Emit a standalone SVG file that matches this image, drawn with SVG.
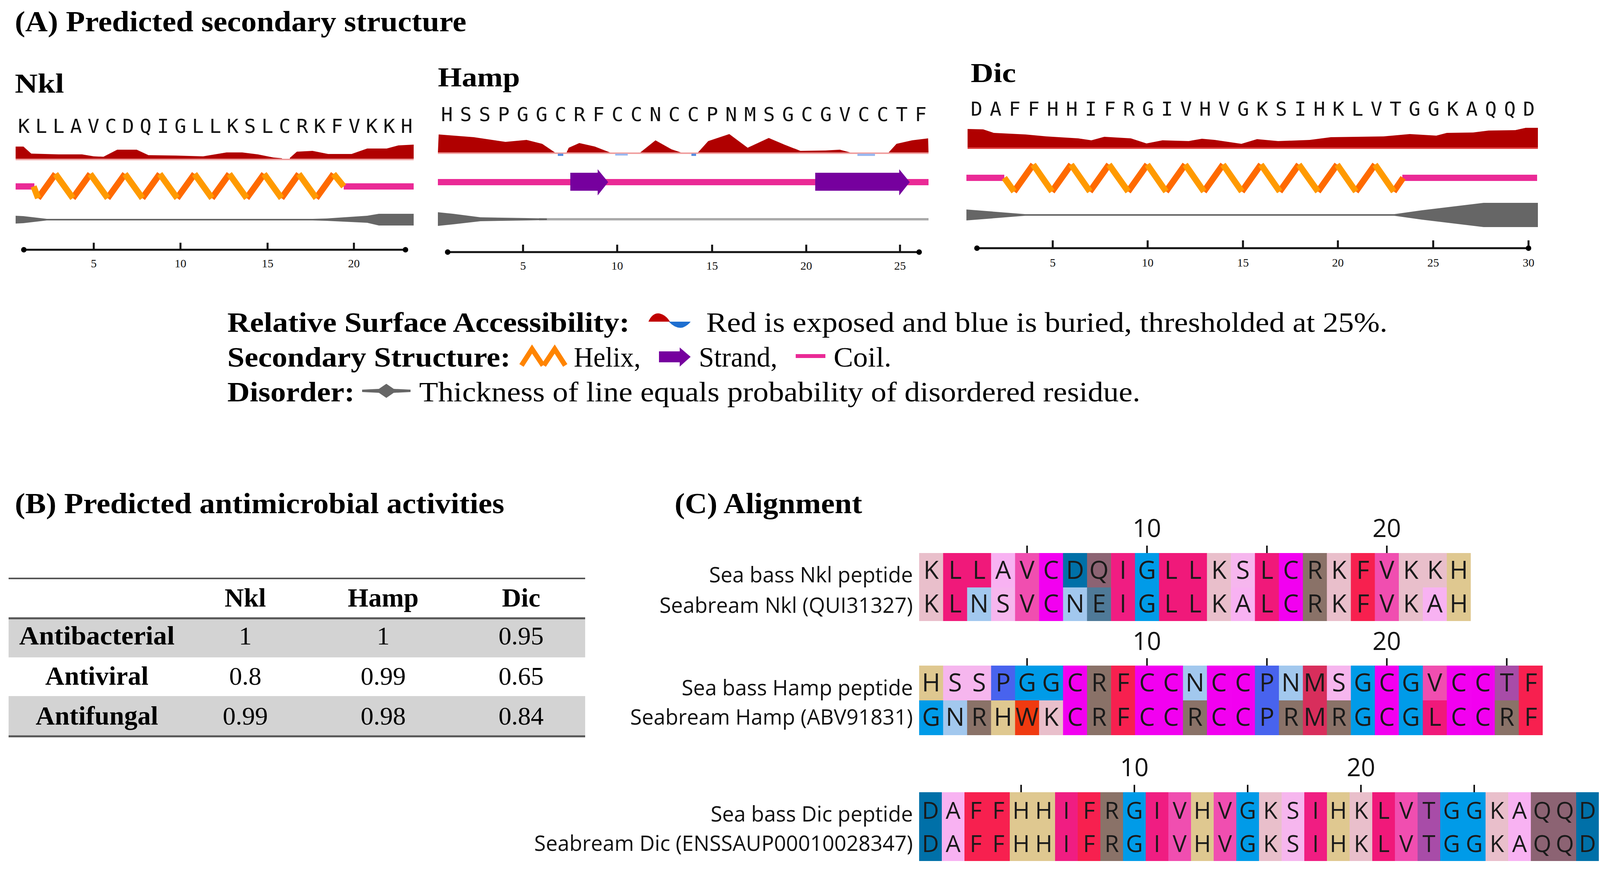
<svg xmlns="http://www.w3.org/2000/svg" width="4226" height="2226" viewBox="0 0 4226 2226">
<style>
.ttl{font-family:"Liberation Serif",serif;font-weight:bold;font-size:74px;fill:#000}
.lbl{font-family:"Liberation Serif",serif;font-weight:bold;font-size:70px;fill:#000}
.seq{font-family:"DejaVu Sans Mono",monospace;font-size:50px;fill:#111}
.ax{font-family:"Liberation Serif",serif;font-size:30px;fill:#111;text-anchor:middle}
.axl{stroke:#111;stroke-width:5;fill:none}
.lg{font-family:"Liberation Serif",serif;font-size:72px;fill:#000}
.lgb{font-family:"Liberation Serif",serif;font-size:72px;font-weight:bold;fill:#000}
.rsa{fill:#b00000}
.coil{stroke:#ea2a96;stroke-width:16;fill:none}
.hup{stroke:#ff6a00;stroke-width:16;fill:none}
.hdn{stroke:#ff9a00;stroke-width:16;fill:none}
.strand{fill:#76009e}
.dis{fill:#666}
.tb{font-family:"Liberation Serif",serif;font-size:66px;fill:#000;text-anchor:middle}
.tbb{font-family:"Liberation Serif",serif;font-size:68px;font-weight:bold;fill:#000;text-anchor:middle}
.nm{font-family:"Open Sans",sans-serif;font-size:54px;fill:#111;text-anchor:end}
.num{font-family:"Open Sans",sans-serif;font-size:64px;fill:#111;text-anchor:middle}
.aa{font-family:"Open Sans",sans-serif;font-size:64px;fill:#1a1a1a;text-anchor:middle}
.aa2{font-family:"Open Sans",sans-serif;font-size:60px;fill:#1a1a1a;text-anchor:middle}
.tk{stroke:#111;stroke-width:4}
.K{fill:#e9bfcb}.L{fill:#f0197a}.A{fill:#f8b2f2}.V{fill:#f04eb0}.C{fill:#f200f0}.D{fill:#0070a8}.Q{fill:#8c6373}.I{fill:#f01d82}.G{fill:#009be8}.S{fill:#f6b6ee}.R{fill:#8a7268}.F{fill:#f7204f}.H{fill:#dfc890}.N{fill:#a2c8ee}.E{fill:#4f7a98}.P{fill:#4863ee}.M{fill:#d82e5c}.T{fill:#a84ca8}.W{fill:#f03a10}
</style>

<text class="ttl" x="38" y="80" textLength="1156" lengthAdjust="spacingAndGlyphs">(A) Predicted secondary structure</text>

<g id="nkl-structure">
<text class="lbl" x="38" y="237" textLength="126" lengthAdjust="spacingAndGlyphs">Nkl</text>
<text class="seq" x="46" y="340" textLength="1010" lengthAdjust="spacing">KLLAVCDQIGLLKSLCRKFVKKH</text>
<path class="rsa" d="M40 407 L40 375 L60 375 L80 393 L150 395 L210 395 L240 400 L265 401 L300 383 L350 383 L380 397 L450 398 L520 400 L580 390 L620 390 L660 395 L700 403 L722 405 L722 407 Z M742 407 L742 404 L760 388 L800 386 L840 394 L900 394 L940 380 L990 380 L1020 372 L1059 370 L1059 407 Z"/>
<rect x="40" y="406" width="1019" height="4" fill="#f0a0a0"/>
<path class="coil" d="M40 477 H88 M880 477 H1059"/>
<path class="hup" d="M97.5 507 L142 445 M186.5 507 L231 445 M275.5 507 L320 445 M364.5 507 L409 445 M453.5 507 L498 445 M542.5 507 L587 445 M631.5 507 L676 445 M720.5 507 L765 445 M809.5 507 L854 445"/>
<path class="hdn" d="M86 477 L97.5 507 M142 445 L186.5 507 M231 445 L275.5 507 M320 445 L364.5 507 M409 445 L453.5 507 M498 445 L542.5 507 M587 445 L631.5 507 M676 445 L720.5 507 M765 445 L809.5 507 M854 445 L880 477"/>
<path class="dis" d="M40 552 L60 553 L120 560 L800 560 L836 559 L940 552 L970 547 L1059 547 L1059 577 L970 577 L940 570 L836 565 L800 564 L120 564 L60 571 L40 572 Z"/>
<path class="axl" d="M61 639 H1038 M240 639 V621 M462 639 V621 M685 639 V621 M906 639 V621"/>
<circle cx="61" cy="639" r="7"/><circle cx="1038" cy="639" r="7"/>
<text class="ax" x="240" y="684">5</text><text class="ax" x="462" y="684">10</text><text class="ax" x="685" y="684">15</text><text class="ax" x="906" y="684">20</text>
</g>

<g id="hamp-structure">
<text class="lbl" x="1121" y="221" textLength="210" lengthAdjust="spacingAndGlyphs">Hamp</text>
<text class="seq" x="1129" y="310" textLength="1243" lengthAdjust="spacing">HSSPGGCRFCCNCCPNMSGCGVCCTF</text>
<path class="rsa" d="M1121 391 L1123 344 L1213 351 L1294 363 L1348 358 L1388 368 L1422 391 Z M1450 391 L1456 378 L1483 366 L1523 375 L1564 391 Z M1638 391 L1678 359 L1719 382 L1746 391 Z M1786 391 L1813 361 L1867 343 L1914 378 L1968 353 L2008 370 L2049 386 L2113 385 L2150 383 L2180 391 Z M2270 391 L2275 390 L2295 368 L2335 359 L2376 354 L2377 391 Z"/>
<rect x="1121" y="390" width="1256" height="4" fill="#f0a0a0"/>
<rect x="1428" y="393" width="14" height="6" fill="#5a8ee0"/><rect x="1575" y="393" width="32" height="5" fill="#9ab8f0"/><rect x="1770" y="393" width="12" height="6" fill="#5a8ee0"/><rect x="2195" y="393" width="45" height="6" fill="#9ab8f0"/>
<path class="coil" d="M1121 466 H2377"/>
<path class="strand" d="M1460 442 L1530 442 L1530 433 L1557 466 L1530 500 L1530 488 L1460 488 Z"/>
<path class="strand" d="M2087 442 L2302 442 L2302 433 L2329 466 L2302 500 L2302 488 L2087 488 Z"/>
<line x1="1380" y1="561" x2="2377" y2="561" stroke="#aaa" stroke-width="6"/>
<path class="dis" d="M1121 543 L1160 547 L1230 556 L1348 558 L1400 559 L1400 563 L1348 564 L1230 566 L1160 574 L1121 578 Z"/>
<path class="axl" d="M1146 645 H2353 M1339 645 V626 M1580 645 V626 M1823 645 V626 M2064 645 V626 M2304 645 V626"/>
<circle cx="1146" cy="645" r="7"/><circle cx="2353" cy="645" r="7"/>
<text class="ax" x="1339" y="690">5</text><text class="ax" x="1580" y="690">10</text><text class="ax" x="1823" y="690">15</text><text class="ax" x="2064" y="690">20</text><text class="ax" x="2304" y="690">25</text>
</g>

<g id="dic-structure">
<text class="lbl" x="2485" y="210" textLength="116" lengthAdjust="spacingAndGlyphs">Dic</text>
<text class="seq" x="2485" y="296" textLength="1444" lengthAdjust="spacing">DAFFHHIFRGIVHVGKSIHKLVTGGKAQQD</text>
<path class="rsa" d="M2477 378 L2477 330 L2517 331 L2544 340 L2625 344 L2679 349 L2760 354 L2794 359 L2827 350 L2895 354 L2935 367 L2976 359 L3043 361 L3077 355 L3110 358 L3178 368 L3218 356 L3272 361 L3353 358 L3407 351 L3542 349 L3609 343 L3677 347 L3704 340 L3771 339 L3811 334 L3879 333 L3906 327 L3937 327 L3937 378 Z"/>
<rect x="2477" y="377" width="1460" height="4" fill="#e04040"/>
<path class="coil" d="M2474 455 H2571 M3590 455 H3935"/>
<path class="hup" d="M2596 490 L2645 421 M2693 490 L2742 421 M2790 490 L2839 421 M2888 490 L2937 421 M2985 490 L3034 421 M3082 490 L3131 421 M3179 490 L3228 421 M3276 490 L3325 421 M3374 490 L3423 421 M3471 490 L3520 421 M3568 490 L3592 455"/>
<path class="hdn" d="M2571 455 L2596 490 M2645 421 L2693 490 M2742 421 L2790 490 M2839 421 L2888 490 M2937 421 L2985 490 M3034 421 L3082 490 M3131 421 L3179 490 M3228 421 L3276 490 M3325 421 L3374 490 M3423 421 L3471 490 M3520 421 L3568 490"/>
<path class="dis" d="M2474 536 L2500 538 L2625 548 L3569 548 L3640 538 L3798 519 L3937 519 L3937 581 L3798 581 L3640 562 L3569 552 L2625 552 L2500 562 L2474 564 Z"/>
<path class="axl" d="M2501 635 H3913 M2695 635 V615 M2938 635 V615 M3182 635 V615 M3425 635 V615 M3669 635 V615 M3913 635 V615"/>
<circle cx="2501" cy="635" r="7"/><circle cx="3913" cy="635" r="7"/>
<text class="ax" x="2695" y="682">5</text><text class="ax" x="2938" y="682">10</text><text class="ax" x="3182" y="682">15</text><text class="ax" x="3425" y="682">20</text><text class="ax" x="3669" y="682">25</text><text class="ax" x="3913" y="682">30</text>
</g>

<g id="legend">
<text class="lgb" x="582" y="849" textLength="1030" lengthAdjust="spacingAndGlyphs">Relative Surface Accessibility:</text>
<path d="M1660 823 Q1670 800 1688 802 Q1705 806 1715 823 Z" fill="#c00000"/>
<path d="M1712 823 Q1730 842 1748 838 Q1762 832 1768 823 Z" fill="#1e6fd0"/>
<text class="lg" x="1808" y="849" textLength="1744" lengthAdjust="spacingAndGlyphs">Red is exposed and blue is buried, thresholded at 25%.</text>
<text class="lgb" x="582" y="938" textLength="725" lengthAdjust="spacingAndGlyphs">Secondary Structure:</text>
<path d="M1335 935 L1362 893 L1390 935 M1392 935 L1420 893 L1447 935" stroke="#ff8400" stroke-width="13" fill="none"/>
<text class="lg" x="1469" y="938" textLength="171" lengthAdjust="spacingAndGlyphs">Helix,</text>
<path class="strand" d="M1687 899 L1740 899 L1740 889 L1768 913 L1740 938 L1740 927 L1687 927 Z"/>
<text class="lg" x="1789" y="938" textLength="201" lengthAdjust="spacingAndGlyphs">Strand,</text>
<path d="M2037 911 H2113" stroke="#ea2a96" stroke-width="10"/>
<text class="lg" x="2134" y="938" textLength="148" lengthAdjust="spacingAndGlyphs">Coil.</text>
<text class="lgb" x="582" y="1027" textLength="326" lengthAdjust="spacingAndGlyphs">Disorder:</text>
<path class="dis" d="M927 997 L970 995 L989 982 L1008 995 L1051 997 L1051 1003 L1008 1005 L989 1018 L970 1005 L927 1003 Z"/>
<text class="lg" x="1073" y="1027" textLength="1846" lengthAdjust="spacingAndGlyphs">Thickness of line equals probability of disordered residue.</text>
</g>

<g id="table">
<text class="ttl" x="38" y="1313" textLength="1253" lengthAdjust="spacingAndGlyphs">(B) Predicted antimicrobial activities</text>
<rect x="22" y="1582" width="1476" height="100" fill="#d3d3d3"/>
<rect x="22" y="1781" width="1476" height="102" fill="#d3d3d3"/>
<line x1="22" y1="1480" x2="1498" y2="1480" stroke="#555" stroke-width="4"/>
<line x1="22" y1="1582" x2="1498" y2="1582" stroke="#555" stroke-width="5"/>
<line x1="22" y1="1884" x2="1498" y2="1884" stroke="#555" stroke-width="5"/>
<text class="tbb" x="628" y="1552">Nkl</text><text class="tbb" x="981" y="1552">Hamp</text><text class="tbb" x="1334" y="1552">Dic</text>
<text class="tbb" x="248" y="1649" textLength="398" lengthAdjust="spacingAndGlyphs">Antibacterial</text><text class="tb" x="628" y="1649">1</text><text class="tb" x="981" y="1649">1</text><text class="tb" x="1334" y="1649">0.95</text>
<text class="tbb" x="248" y="1752">Antiviral</text><text class="tb" x="628" y="1752">0.8</text><text class="tb" x="981" y="1752">0.99</text><text class="tb" x="1334" y="1752">0.65</text>
<text class="tbb" x="248" y="1854">Antifungal</text><text class="tb" x="628" y="1854">0.99</text><text class="tb" x="981" y="1854">0.98</text><text class="tb" x="1334" y="1854">0.84</text>
</g>

<text class="ttl" x="1727" y="1313" textLength="480" lengthAdjust="spacingAndGlyphs">(C) Alignment</text>

<g id="align-nkl">
<text class="nm" x="2337" y="1490">Sea bass Nkl peptide</text>
<text class="nm" x="2337" y="1568">Seabream Nkl (QUI31327)</text>
<text class="num" x="2936" y="1374">10</text><text class="num" x="3550" y="1374">20</text>
<path class="tk" d="M2629.3 1396 V1415 M2936.3 1396 V1415 M3243.3 1396 V1415 M3550.3 1396 V1415"/>
<g transform="translate(0,1415)">
<rect class="K" x="2353" width="62" height="88"/><rect class="L" x="2414.4" width="62" height="88"/><rect class="L" x="2475.8" width="62" height="88"/><rect class="A" x="2537.2" width="62" height="88"/><rect class="V" x="2598.6" width="62" height="88"/><rect class="C" x="2660" width="62" height="88"/><rect class="D" x="2721.4" width="62" height="88"/><rect class="Q" x="2782.8" width="62" height="88"/><rect class="I" x="2844.2" width="62" height="88"/><rect class="G" x="2905.6" width="62" height="88"/><rect class="L" x="2967" width="62" height="88"/><rect class="L" x="3028.4" width="62" height="88"/><rect class="K" x="3089.8" width="62" height="88"/><rect class="S" x="3151.2" width="62" height="88"/><rect class="L" x="3212.6" width="62" height="88"/><rect class="C" x="3274" width="62" height="88"/><rect class="R" x="3335.4" width="62" height="88"/><rect class="K" x="3396.8" width="62" height="88"/><rect class="F" x="3458.2" width="62" height="88"/><rect class="V" x="3519.6" width="62" height="88"/><rect class="K" x="3581" width="62" height="88"/><rect class="K" x="3642.4" width="62" height="88"/><rect class="H" x="3703.8" width="61.4" height="88"/>
<rect class="K" x="2353" y="88" width="62" height="86"/><rect class="L" x="2414.4" y="88" width="62" height="86"/><rect class="N" x="2475.8" y="88" width="62" height="86"/><rect class="S" x="2537.2" y="88" width="62" height="86"/><rect class="V" x="2598.6" y="88" width="62" height="86"/><rect class="C" x="2660" y="88" width="62" height="86"/><rect class="N" x="2721.4" y="88" width="62" height="86"/><rect class="E" x="2782.8" y="88" width="62" height="86"/><rect class="I" x="2844.2" y="88" width="62" height="86"/><rect class="G" x="2905.6" y="88" width="62" height="86"/><rect class="L" x="2967" y="88" width="62" height="86"/><rect class="L" x="3028.4" y="88" width="62" height="86"/><rect class="K" x="3089.8" y="88" width="62" height="86"/><rect class="A" x="3151.2" y="88" width="62" height="86"/><rect class="L" x="3212.6" y="88" width="62" height="86"/><rect class="C" x="3274" y="88" width="62" height="86"/><rect class="R" x="3335.4" y="88" width="62" height="86"/><rect class="K" x="3396.8" y="88" width="62" height="86"/><rect class="F" x="3458.2" y="88" width="62" height="86"/><rect class="V" x="3519.6" y="88" width="62" height="86"/><rect class="K" x="3581" y="88" width="62" height="86"/><rect class="A" x="3642.4" y="88" width="62" height="86"/><rect class="H" x="3703.8" y="88" width="61.4" height="86"/>
<text class="aa" y="66" x="2383.7 2445.1 2506.5 2567.9 2629.3 2690.7 2752.1 2813.5 2874.9 2936.3 2997.7 3059.1 3120.5 3181.9 3243.3 3304.7 3366.1 3427.5 3488.9 3550.3 3611.7 3673.1 3734.5">KLLAVCDQIGLLKSLCRKFVKKH</text>
<text class="aa" y="152" x="2383.7 2445.1 2506.5 2567.9 2629.3 2690.7 2752.1 2813.5 2874.9 2936.3 2997.7 3059.1 3120.5 3181.9 3243.3 3304.7 3366.1 3427.5 3488.9 3550.3 3611.7 3673.1 3734.5">KLNSVCNEIGLLKALCRKFVKAH</text>
</g>
</g>

<g id="align-hamp">
<text class="nm" x="2337" y="1779">Sea bass Hamp peptide</text>
<text class="nm" x="2337" y="1854">Seabream Hamp (ABV91831)</text>
<text class="num" x="2936" y="1663">10</text><text class="num" x="3550" y="1663">20</text>
<path class="tk" d="M2629.3 1684 V1703 M2936.3 1684 V1703 M3243.3 1684 V1703 M3550.3 1684 V1703 M3857.3 1684 V1703"/>
<g transform="translate(0,1703)">
<rect class="H" x="2353" width="62" height="89"/><rect class="S" x="2414.4" width="62" height="89"/><rect class="S" x="2475.8" width="62" height="89"/><rect class="P" x="2537.2" width="62" height="89"/><rect class="G" x="2598.6" width="62" height="89"/><rect class="G" x="2660" width="62" height="89"/><rect class="C" x="2721.4" width="62" height="89"/><rect class="R" x="2782.8" width="62" height="89"/><rect class="F" x="2844.2" width="62" height="89"/><rect class="C" x="2905.6" width="62" height="89"/><rect class="C" x="2967" width="62" height="89"/><rect class="N" x="3028.4" width="62" height="89"/><rect class="C" x="3089.8" width="62" height="89"/><rect class="C" x="3151.2" width="62" height="89"/><rect class="P" x="3212.6" width="62" height="89"/><rect class="N" x="3274" width="62" height="89"/><rect class="M" x="3335.4" width="62" height="89"/><rect class="S" x="3396.8" width="62" height="89"/><rect class="G" x="3458.2" width="62" height="89"/><rect class="C" x="3519.6" width="62" height="89"/><rect class="G" x="3581" width="62" height="89"/><rect class="V" x="3642.4" width="62" height="89"/><rect class="C" x="3703.8" width="62" height="89"/><rect class="C" x="3765.2" width="62" height="89"/><rect class="T" x="3826.6" width="62" height="89"/><rect class="F" x="3888" width="61.4" height="89"/>
<rect class="G" x="2353" y="89" width="62" height="89"/><rect class="N" x="2414.4" y="89" width="62" height="89"/><rect class="R" x="2475.8" y="89" width="62" height="89"/><rect class="H" x="2537.2" y="89" width="62" height="89"/><rect class="W" x="2598.6" y="89" width="62" height="89"/><rect class="K" x="2660" y="89" width="62" height="89"/><rect class="C" x="2721.4" y="89" width="62" height="89"/><rect class="R" x="2782.8" y="89" width="62" height="89"/><rect class="F" x="2844.2" y="89" width="62" height="89"/><rect class="C" x="2905.6" y="89" width="62" height="89"/><rect class="C" x="2967" y="89" width="62" height="89"/><rect class="R" x="3028.4" y="89" width="62" height="89"/><rect class="C" x="3089.8" y="89" width="62" height="89"/><rect class="C" x="3151.2" y="89" width="62" height="89"/><rect class="P" x="3212.6" y="89" width="62" height="89"/><rect class="R" x="3274" y="89" width="62" height="89"/><rect class="M" x="3335.4" y="89" width="62" height="89"/><rect class="R" x="3396.8" y="89" width="62" height="89"/><rect class="G" x="3458.2" y="89" width="62" height="89"/><rect class="C" x="3519.6" y="89" width="62" height="89"/><rect class="G" x="3581" y="89" width="62" height="89"/><rect class="L" x="3642.4" y="89" width="62" height="89"/><rect class="C" x="3703.8" y="89" width="62" height="89"/><rect class="C" x="3765.2" y="89" width="62" height="89"/><rect class="R" x="3826.6" y="89" width="62" height="89"/><rect class="F" x="3888" y="89" width="61.4" height="89"/>
<text class="aa" y="66" x="2383.7 2445.1 2506.5 2567.9 2629.3 2690.7 2752.1 2813.5 2874.9 2936.3 2997.7 3059.1 3120.5 3181.9 3243.3 3304.7 3366.1 3427.5 3488.9 3550.3 3611.7 3673.1 3734.5 3795.9 3857.3 3918.7">HSSPGGCRFCCNCCPNMSGCGVCCTF</text>
<text class="aa" y="154" x="2383.7 2445.1 2506.5 2567.9 2629.3 2690.7 2752.1 2813.5 2874.9 2936.3 2997.7 3059.1 3120.5 3181.9 3243.3 3304.7 3366.1 3427.5 3488.9 3550.3 3611.7 3673.1 3734.5 3795.9 3857.3 3918.7">GNRHWKCRFCCRCCPRMRGCGLCCRF</text>
</g>
</g>

<g id="align-dic">
<text class="nm" x="2337" y="2102">Sea bass Dic peptide</text>
<text class="nm" x="2337" y="2177">Seabream Dic (ENSSAUP00010028347)</text>
<text class="num" x="2904" y="1986">10</text><text class="num" x="3484" y="1986">20</text>
<path class="tk" d="M2614 2008 V2027 M2904 2008 V2027 M3194 2008 V2027 M3484 2008 V2027 M3774 2008 V2027"/>
<g transform="translate(2353,2027)">
<rect class="D" x="0" width="58.5" height="176"/><rect class="A" x="58" width="58.5" height="176"/><rect class="F" x="116" width="58.5" height="176"/><rect class="F" x="174" width="58.5" height="176"/><rect class="H" x="232" width="58.5" height="176"/><rect class="H" x="290" width="58.5" height="176"/><rect class="I" x="348" width="58.5" height="176"/><rect class="F" x="406" width="58.5" height="176"/><rect class="R" x="464" width="58.5" height="176"/><rect class="G" x="522" width="58.5" height="176"/><rect class="I" x="580" width="58.5" height="176"/><rect class="V" x="638" width="58.5" height="176"/><rect class="H" x="696" width="58.5" height="176"/><rect class="V" x="754" width="58.5" height="176"/><rect class="G" x="812" width="58.5" height="176"/><rect class="K" x="870" width="58.5" height="176"/><rect class="S" x="928" width="58.5" height="176"/><rect class="I" x="986" width="58.5" height="176"/><rect class="H" x="1044" width="58.5" height="176"/><rect class="K" x="1102" width="58.5" height="176"/><rect class="L" x="1160" width="58.5" height="176"/><rect class="V" x="1218" width="58.5" height="176"/><rect class="T" x="1276" width="58.5" height="176"/><rect class="G" x="1334" width="58.5" height="176"/><rect class="G" x="1392" width="58.5" height="176"/><rect class="K" x="1450" width="58.5" height="176"/><rect class="A" x="1508" width="58.5" height="176"/><rect class="Q" x="1566" width="58.5" height="176"/><rect class="Q" x="1624" width="58.5" height="176"/><rect class="D" x="1682" width="58" height="176"/>
<text class="aa2" y="68" x="29 87 145 203 261 319 377 435 493 551 609 667 725 783 841 899 957 1015 1073 1131 1189 1247 1305 1363 1421 1479 1537 1595 1653 1711">DAFFHHIFRGIVHVGKSIHKLVTGGKAQQD</text>
<text class="aa2" y="153" x="29 87 145 203 261 319 377 435 493 551 609 667 725 783 841 899 957 1015 1073 1131 1189 1247 1305 1363 1421 1479 1537 1595 1653 1711">DAFFHHIFRGIVHVGKSIHKLVTGGKAQQD</text>
</g>
</g>
</svg>
